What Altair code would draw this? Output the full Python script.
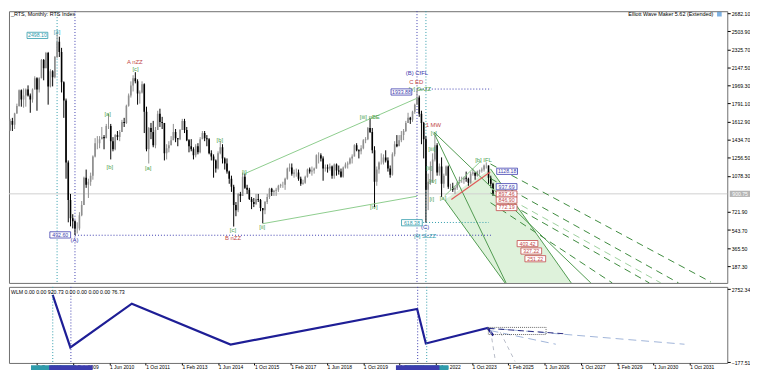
import altair as alt
import pandas as pd

# ---------------- data (monthly candles, Jul 2006 .. Aug 2024) ----------------
first_year, first_month = 2006, 7
first_open = 1550
closes = [
    1526, 1619, 1582, 1694, 1766, 1922,
    1830, 1870, 1930, 1870, 1830, 1930, 2040, 1930, 2040, 2220, 2140, 2290,
    1960, 2110, 2050, 2250, 2400, 2300, 2000, 1820, 1210, 840, 660, 630,
    560, 560, 690, 790, 1060, 990, 1020, 1080, 1270, 1400, 1400, 1440,
    1460, 1450, 1570, 1570, 1420, 1340, 1480, 1460, 1510, 1610, 1600, 1770,
    1870, 1970, 2040, 2010, 1890, 1900, 1980, 1710, 1340, 1550, 1510, 1380,
    1530, 1690, 1610, 1600, 1300, 1350, 1380, 1430, 1510, 1450, 1440, 1530,
    1620, 1530, 1430, 1370, 1340, 1280, 1370, 1310, 1440, 1500, 1450, 1440,
    1300, 1270, 1230, 1150, 1300, 1360, 1250, 1200, 1120, 1050, 970, 790,
    740, 900, 880, 1070, 960, 940, 850, 820, 800, 850, 840, 760,
    740, 820, 870, 950, 920, 930, 940, 980, 990, 990, 1050, 1150,
    1160, 1100, 1110, 1110, 1050, 1000, 1010, 1070, 1140, 1120, 1130, 1150,
    1280, 1280, 1250, 1150, 1160, 1150, 1170, 1080, 1190, 1130, 1120, 1070,
    1160, 1190, 1200, 1250, 1270, 1380, 1330, 1320, 1350, 1430, 1440, 1550,
    1510, 1330, 1020, 1140, 1210, 1210, 1260, 1230, 1150, 1090, 1290, 1390,
    1370, 1430, 1480, 1520, 1600, 1650, 1630, 1710, 1780, 1850, 1690, 1600,
    1440, 940, 1020, 1030, 1240, 1380, 1110, 1170, 1000, 1080, 1170, 970,
    970, 940, 960, 1010, 1040, 1040, 1060, 1050, 1010, 1100, 1110, 1080,
    1120, 1130, 1140, 1180, 1180, 1060, 1000, 900.75,
]
highs = [
    1600, 1640, 1650, 1700, 1790, 1930,
    1930, 1940, 1940, 1970, 1890, 1940, 2060, 2050, 2050, 2230, 2230, 2300,
    2300, 2130, 2120, 2260, 2498, 2450, 2340, 2010, 1840, 1230, 900, 700,
    640, 620, 720, 830, 1070, 1140, 1050, 1110, 1280, 1450, 1470, 1470,
    1560, 1480, 1590, 1690, 1590, 1460, 1490, 1520, 1530, 1630, 1650, 1780,
    1890, 2010, 2070, 2100, 2030, 1920, 2010, 1990, 1760, 1560, 1600, 1620,
    1560, 1720, 1740, 1660, 1600, 1390, 1420, 1470, 1590, 1540, 1450, 1540,
    1640, 1640, 1560, 1440, 1440, 1360, 1390, 1400, 1460, 1520, 1520, 1480,
    1450, 1330, 1290, 1240, 1320, 1420, 1390, 1260, 1250, 1130, 1080, 990,
    820, 910, 920, 1110, 1100, 990, 960, 870, 860, 900, 900, 850,
    760, 830, 900, 960, 960, 940, 960, 990, 1000, 1020, 1060, 1160,
    1200, 1200, 1140, 1150, 1140, 1070, 1040, 1080, 1150, 1160, 1170, 1160,
    1290, 1310, 1300, 1270, 1190, 1190, 1200, 1180, 1200, 1200, 1180, 1150,
    1170, 1210, 1220, 1260, 1290, 1390, 1400, 1340, 1380, 1440, 1460, 1560,
    1650, 1550, 1370, 1170, 1220, 1300, 1290, 1330, 1260, 1180, 1310, 1420,
    1480, 1480, 1520, 1540, 1620, 1700, 1660, 1720, 1790, 1934, 1870, 1720,
    1610, 1470, 1100, 1220, 1300, 1500, 1400, 1200, 1260, 1100, 1180, 1180,
    1000, 1010, 980, 1020, 1070, 1070, 1070, 1120, 1060, 1120, 1150, 1110,
    1130, 1140, 1160, 1190, 1211, 1180, 1080, 1010,
]
lows = [
    1470, 1520, 1520, 1540, 1690, 1760,
    1760, 1750, 1760, 1860, 1700, 1800, 1930, 1720, 1900, 2040, 2020, 2140,
    1780, 1950, 1960, 2040, 2240, 2250, 1900, 1650, 1050, 620, 580, 560,
    493, 510, 540, 680, 790, 960, 860, 980, 1040, 1260, 1340, 1350,
    1440, 1340, 1450, 1540, 1240, 1320, 1330, 1430, 1420, 1510, 1560, 1590,
    1760, 1850, 1910, 1990, 1780, 1790, 1890, 1500, 1320, 1200, 1440, 1360,
    1350, 1530, 1560, 1540, 1230, 1240, 1310, 1380, 1430, 1410, 1370, 1430,
    1530, 1500, 1420, 1310, 1320, 1240, 1260, 1290, 1300, 1440, 1420, 1370,
    1290, 1230, 1060, 1110, 1140, 1290, 1200, 1140, 1100, 1000, 920, 578,
    680, 720, 820, 880, 950, 900, 840, 750, 770, 790, 820, 730,
    610, 700, 800, 850, 880, 880, 880, 920, 960, 960, 940, 1040,
    1120, 1080, 1060, 1070, 1030, 980, 990, 1000, 1060, 1100, 1080, 1100,
    1150, 1200, 1220, 1030, 1120, 1110, 1130, 1050, 1050, 1080, 1090, 1060,
    1060, 1150, 1150, 1190, 1200, 1270, 1320, 1250, 1290, 1340, 1400, 1430,
    1500, 1300, 770, 980, 1100, 1190, 1190, 1210, 1120, 1060, 1080, 1270,
    1360, 1380, 1410, 1430, 1510, 1600, 1590, 1610, 1690, 1780, 1660, 1390,
    1250, 618, 740, 990, 1010, 1220, 1080, 1080, 870, 960, 1090, 950,
    930, 920, 900, 940, 1000, 1010, 1000, 1020, 980, 1000, 1080, 1040,
    1070, 1090, 1110, 1120, 1150, 1000, 960, 880,
]
current_price = 900.75
price_ticks = [187.30, 365.50, 543.70, 721.90, 1078.30, 1256.50, 1434.70, 1612.90,
               1791.10, 1969.30, 2147.50, 2325.70, 2503.90, 2682.10]
wlm_ticks = [-177.51, 2752.34]
time_ticks = [2007.75, 2009.083, 2010.417, 2011.75, 2013.083, 2014.417, 2015.75,
              2017.083, 2018.417, 2019.75, 2021.083, 2022.417, 2023.75, 2025.083,
              2026.417, 2027.75, 2029.083, 2030.417, 2031.75]

# wave labels (decimal year, price, text, colour key)
lbl_t = [2008.33, 2011.23, 2011.26, 2010.22, 2010.30, 2011.73, 2014.40, 2015.31, 2014.89,
         2014.89, 2015.98, 2019.99, 2020.14, 2021.75, 2021.72, 2021.86, 2022.36, 2022.38,
         2022.30, 2022.20, 2022.33, 2022.30, 2022.72, 2024.23, 2022.05, 2022.05, 2008.98]
lbl_p = [2500, 2196, 2129, 1688, 1169, 1154, 1433, 1116, 544,
         464, 575, 1655, 766, 2091, 2005, 1938, 1576, 1503,
         1338, 1157, 1030, 845, 861, 1236, 569, 489, 448]
lbl_s = ["[3]", "A nZZ", "[c]", "[a]", "[b]", "[a]", "[b]", "[i]", "[c]",
         "B nZZ", "[ii]", "[iii] nBE", "[iv]", "(B) CfFL", "C ED", "[v] SeZZ", "1 MW", "[v]",
         "[iii]", "[ii]", "[iv]", "[i]", "[a]", "[b] IFL", "(C)", "[4] ScZZ", "(A)"]
lbl_c = ["teal", "red", "green", "green", "green", "green", "green", "green", "green",
         "red", "green", "green", "green", "navy", "red", "green", "red", "green",
         "green", "green", "green", "green", "green", "green", "navy", "teal", "navy"]

# boxed price labels
box_t = [2007.60, 2008.45, 2021.17, 2021.56, 2025.11, 2025.09, 2025.09, 2025.09, 2025.09,
         2025.87, 2026.01, 2026.16]
box_p = [2463, 496, 1905, 616, 1123, 971, 899, 839, 766, 410, 337, 261]
box_s = ["2498.10", "492.60", "1933.88", "618.38", "1128.18", "937.69", "897.46", "846.90",
         "772.19", "403.42", "327.22", "251.22"]
box_c = ["teal", "navy", "navy", "teal", "navy", "navy", "red", "red", "red", "red", "red", "red"]

# vertical marker lines
vline_t = [2008.333, 2009.0, 2021.75, 2022.083]
vline_c = ["teal", "navy", "navy", "teal"]

# horizontal dotted levels (from, to, price, colour)
lvl_t1 = [2009.0, 2021.75, 2021.87]
lvl_t2 = [2024.52, 2024.52, 2024.43]
lvl_p = [492.6, 1933.88, 618.38]
lvl_c = ["navy", "navy", "teal"]

# trend / channel segments (t1, p1, t2, p2)
channel_seg = [(2015.33, 1099.6, 2021.75, 1843.2), (2016.0, 606.7, 2021.75, 877.5),
               (2022.78, 880.4, 2024.13, 1223.6)]
red_seg = [(2023.03, 845.0, 2024.48, 1115.8)]
fan_solid = [(2022.38, 1509.5, 2028.23, 22.4), (2022.42, 1480.9, 2025.07, 22.4),
             (2022.78, 842.2, 2025.03, 22.4), (2024.49, 1147.3, 2027.5, 22.4)]
fan_dashed = [(2024.49, 1195.0, 2032.7, 32.0), (2024.49, 1052.0, 2031.5, 22.4),
              (2024.49, 909.0, 2030.41, 22.4), (2024.49, 813.6, 2029.03, 22.4)]
fan_light = [(2024.49, 956.6, 2030.84, 22.4)]
# shaded projection channel (price, left edge, right edge)
zone_p = [1147.3, 842.2, 22.4]
zone_l = [2024.49, 2022.78, 2025.03]
zone_r = [2024.49, 2025.31, 2027.5]

# WLM indicator zigzag
wlm_t = [2008.33, 2008.98, 2011.24, 2014.87, 2021.73, 2022.05, 2024.32, 2024.53]
wlm_v = [2519, 421, 2169, 537, 1960, 576, 1198, 899]
wlm_navy_dash = [(2024.35, 1182, 2027.18, 965)]
wlm_light_dash = [(2024.32, 1198, 2031.56, 549), (2024.43, 1093, 2026.83, 549)]
wlm_gray_dash = [(2024.43, 1093, 2024.61, -139), (2024.79, 1027, 2025.33, -139)]
wlm_box = (2024.35, 2026.47, 937, 1221)

# ---------------- styling ----------------
COL = {"teal": "#2f9bab", "navy": "#3c3cae", "red": "#c24848", "green": "#4c9f4c"}
FONT = "Liberation Sans"
W, H1, H2 = 727, 275, 77
X_DOM = [2006.724, 2033.133]
Y1_DOM = [22.4, 2701.2]
Y2_DOM = [-200, 2842]
BOX = "M-1,-0.3L1,-0.3L1,0.3L-1,0.3Z"

y_axis_top = alt.Axis(orient="right", values=price_ticks, format=".2f", title=None, grid=False,
                      domain=False, tickSize=3, tickColor="#000", labelFontSize=5.2, labelFont=FONT,
                      labelColor="#000", labelPadding=1, labelOverlap=False)
y_axis_bot = alt.Axis(orient="right", values=wlm_ticks, format=".2f", title=None, grid=False,
                      domain=False, tickSize=3, tickColor="#000", labelFontSize=5.2, labelFont=FONT,
                      labelColor="#000", labelPadding=1, labelOverlap=False)
x_axis_bot = alt.Axis(orient="bottom", values=time_ticks, title=None, grid=False, domain=False,
                      tickSize=2, tickColor="#000", labelFontSize=5, labelFont=FONT, labelColor="#000",
                      labelAlign="left", labelBaseline="top", labelPadding=0, labelOverlap=False,
                      labelExpr="'1 ' + ['Jan','Feb','Mar','Apr','May','Jun','Jul','Aug','Sep','Oct','Nov','Dec'][round((datum.value - floor(datum.value)) * 12) % 12] + ' ' + floor(datum.value + 0.001)")

XS = alt.Scale(domain=X_DOM, nice=False, zero=False)


def X(field):
    return alt.X(field, type="quantitative", scale=XS, axis=None)


def XB(field):
    return alt.X(field, type="quantitative", scale=XS, axis=x_axis_bot)


def Y1(field):
    return alt.Y(field, type="quantitative", scale=alt.Scale(domain=Y1_DOM, nice=False, zero=False),
                 axis=y_axis_top)


def Y2(field):
    return alt.Y(field, type="quantitative", scale=alt.Scale(domain=Y2_DOM, nice=False, zero=False),
                 axis=y_axis_bot)


def segs(lst):
    return pd.DataFrame(lst, columns=["t1", "p1", "t2", "p2"])


# ---------------- tables ----------------
n = len(closes)
cand = pd.DataFrame({
    "t": [first_year + (first_month - 1 + i) / 12 for i in range(n)],
    "open": [first_open] + closes[:-1],
    "close": closes, "high": highs, "low": lows,
})
cand["dir"] = ["up" if c >= o else "down" for o, c in zip(cand["open"], cand["close"])]
dir_color = alt.Color("dir:N", scale=alt.Scale(domain=["up", "down"], range=["#8e8e8e", "#000000"]), legend=None)

labels = pd.DataFrame({"t": lbl_t, "p": lbl_p, "s": lbl_s, "c": [COL[c] for c in lbl_c]})
boxes = pd.DataFrame({"t": box_t, "p": box_p, "s": box_s, "c": [COL[c] for c in box_c]})
vlines = pd.DataFrame({"t": vline_t, "c": [COL[c] for c in vline_c]})
levels = pd.DataFrame({"t1": lvl_t1, "t2": lvl_t2, "p": lvl_p, "c": [COL[c] for c in lvl_c]})
zone = pd.DataFrame({"p": zone_p, "l": zone_l, "r": zone_r})
cur = pd.DataFrame({"p": [current_price], "s": [f"{current_price:.2f}"]})

# ---------------- top panel ----------------
shade = alt.Chart(zone).mark_area(orient="horizontal", color="#d3edcf", opacity=0.75, clip=True).encode(
    y=Y1("p"), x=X("l"), x2="r")

cur_line = alt.Chart(cur).mark_rule(color="#cfcfcf", strokeWidth=1).encode(y=Y1("p"))

vl_top = alt.Chart(vlines).mark_rule(strokeDash=[1, 2], strokeWidth=1).encode(
    x=X("t"), color=alt.Color("c:N", scale=None))

lv_top = alt.Chart(levels).mark_rule(strokeDash=[1, 2], strokeWidth=1).encode(
    x=X("t1"), x2="t2", y=Y1("p"), color=alt.Color("c:N", scale=None))

wick = alt.Chart(cand).mark_rule(strokeWidth=1, clip=True).encode(x=X("t"), y=Y1("low"), y2="high", color=dir_color)
body = alt.Chart(cand).mark_bar(size=1.6, clip=True).encode(x=X("t"), y=Y1("open"), y2="close", color=dir_color)


def seg_layer(df, color, width=1.0, dash=None, opacity=1.0):
    kw = dict(color=color, strokeWidth=width, opacity=opacity, clip=True)
    if dash:
        kw["strokeDash"] = dash
    return alt.Chart(df).mark_rule(**kw).encode(x=X("t1"), y=Y1("p1"), x2="t2", y2="p2")


chan = seg_layer(segs(channel_seg), "#8ccc8c", 1.0)
redl = seg_layer(segs(red_seg), "#e05a5a", 1.2)
fs = seg_layer(segs(fan_solid), "#4f994f", 1.0)
fd = seg_layer(segs(fan_dashed), "#3d8a3d", 1.0, [7, 5])
fl = seg_layer(segs(fan_light), "#9ccf9c", 1.0, [7, 5])

lbl = alt.Chart(labels).mark_text(font=FONT, fontSize=6, align="center", baseline="middle").encode(
    x=X("t"), y=Y1("p"), text="s:N", color=alt.Color("c:N", scale=None))

box_bg = alt.Chart(boxes).mark_point(shape=BOX, size=21 ** 2, fill="white", fillOpacity=1,
                                     strokeWidth=0.8, opacity=1).encode(
    x=X("t"), y=Y1("p"), stroke=alt.Stroke("c:N", scale=None))
box_tx = alt.Chart(boxes).mark_text(font=FONT, fontSize=5.3, align="center", baseline="middle").encode(
    x=X("t"), y=Y1("p"), text="s:N", color=alt.Color("c:N", scale=None))

cur_box = alt.Chart(cur).mark_point(shape=BOX, size=21 ** 2, fill="#b5b5b5", fillOpacity=1,
                                    strokeOpacity=0).encode(x=alt.value(W + 13), y=Y1("p"))
cur_tx = alt.Chart(cur).mark_text(font=FONT, fontSize=5.2, color="white", align="center",
                                  baseline="middle").encode(x=alt.value(W + 13), y=Y1("p"), text="s:N")

title_df = pd.DataFrame({"s": ["_RTS, Monthly: RTS Index"]})
title_tx = alt.Chart(title_df).mark_text(font=FONT, fontSize=5.5, align="left", baseline="middle",
                                         color="#000").encode(x=alt.value(2), y=alt.value(3), text="s:N")
ewm_df = pd.DataFrame({"s": ["Elliott Wave Maker 5.62 (Extended)"]})
ewm_tx = alt.Chart(ewm_df).mark_text(font=FONT, fontSize=5.5, align="right", baseline="middle",
                                     color="#000").encode(x=alt.value(W - 14), y=alt.value(3), text="s:N")
ewm_icon = alt.Chart(ewm_df).mark_point(shape="square", size=22, filled=True, color="#4a92d6").encode(
    x=alt.value(W - 8), y=alt.value(3))

top = alt.layer(shade, cur_line, vl_top, lv_top, wick, body, chan, fs, fd, fl, redl,
                lbl, box_bg, box_tx, cur_box, cur_tx, title_tx, ewm_tx, ewm_icon).properties(width=W, height=H1)

# ---------------- bottom panel ----------------
wlm = pd.DataFrame({"t": wlm_t, "v": wlm_v, "o": list(range(len(wlm_t)))})

wlm_line = alt.Chart(wlm).mark_line(color="#1e1e96", strokeWidth=2.2).encode(
    x=XB("t"), y=Y2("v"), order="o:Q")

vl_bot = alt.Chart(vlines).mark_rule(strokeDash=[1, 2], strokeWidth=1).encode(
    x=XB("t"), color=alt.Color("c:N", scale=None))


def seg2(df, color, width=1.0, dash=None):
    kw = dict(color=color, strokeWidth=width, clip=True)
    if dash:
        kw["strokeDash"] = dash
    return alt.Chart(df).mark_rule(**kw).encode(x=XB("t1"), y=Y2("p1"), x2="t2", y2="p2")


wd1 = seg2(segs(wlm_light_dash), "#9fb4d8", 1.0, [8, 5])
wd2 = seg2(segs(wlm_gray_dash), "#b8bcc8", 1.0, [4, 4])
wd3 = seg2(segs(wlm_navy_dash), "#2a2a80", 1.0, [6, 4])
wbox = alt.Chart(pd.DataFrame([wlm_box], columns=["t1", "t2", "v1", "v2"])).mark_rect(
    filled=False, stroke="#444", strokeWidth=0.8, strokeDash=[1, 1]).encode(
    x=XB("t1"), x2="t2", y=Y2("v1"), y2="v2")

wlm_df = pd.DataFrame({"s": ["WLM 0.00 0.00 920.73 0.00 0.00 0.00 0.00 76.73"]})
wlm_tx = alt.Chart(wlm_df).mark_text(font=FONT, fontSize=5.3, align="left", baseline="middle",
                                     color="#000").encode(x=alt.value(2), y=alt.value(5), text="s:N")

date_boxes = pd.DataFrame({"t": vline_t, "c": [COL[c] for c in vline_c],
                           "k": [0, 1, 1, 0]}).sort_values("k")
dbox = alt.Chart(date_boxes).mark_point(shape=BOX, size=44 ** 2, fillOpacity=1, strokeOpacity=0,
                                        opacity=1).encode(
    x=XB("t"), y=alt.value(H2 + 9), fill=alt.Fill("c:N", scale=None), order="k:Q")

bottom = alt.layer(wlm_line, vl_bot, wd1, wd2, wd3, wbox, wlm_tx, dbox).properties(width=W, height=H2)

chart = alt.vconcat(top, bottom, spacing=2).properties(
    padding={"left": 0, "top": 0, "right": -1, "bottom": -1},
    background="white",
).configure_view(stroke="#6e6e6e", strokeWidth=1)

chart.save("out.html", embed_options={"renderer": "svg", "actions": False})
